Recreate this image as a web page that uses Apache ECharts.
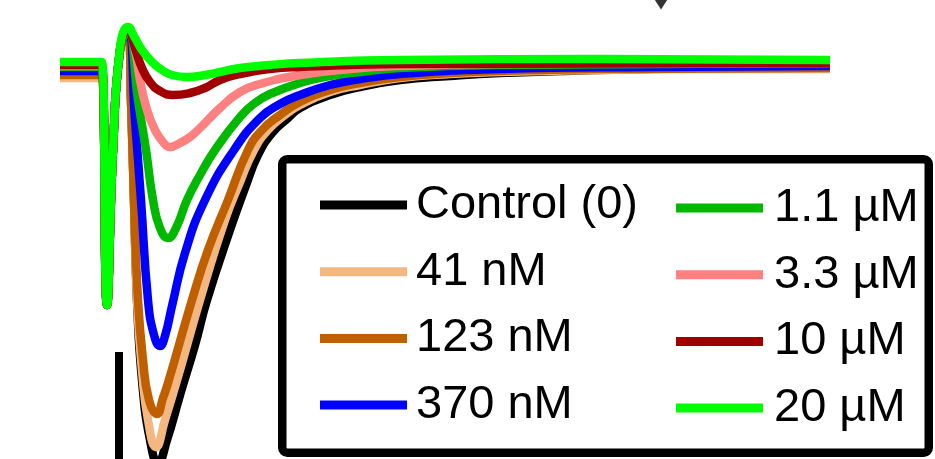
<!DOCTYPE html>
<html>
<head>
<meta charset="utf-8">
<script src="https://cdn.jsdelivr.net/npm/echarts@6/dist/echarts.min.js"></script>
<style>html,body{margin:0;padding:0;background:#fff}#c{width:935px;height:459px}</style>
</head>
<body>
<div id="c"></div>
<script>
// Traces: [time (a.u.), current (a.u.)]
const legendLeft = ['Control (0)', '41 nM', '123 nM', '370 nM'];
const legendRight = ['1.1 \u00b5M', '3.3 \u00b5M', '10 \u00b5M', '20 \u00b5M'];
const colors = ['#000000', '#F3B77F', '#BF5F00', '#0000FF', '#00B800', '#FF8080', '#A00000', '#00FF00'];

const traceControl = [[60,-4],[100,-4],[102,-4],[107,-235],[113,-80],[120,20],[128,40],[131,-30],[134,-130],[137,-230],[142,-310],[150,-370],[158,-393],[167,-370],[180,-325],[195,-275],[207,-230],[230,-160],[245,-118],[258,-85],[272,-63],[288,-48],[300,-38],[330,-25],[360,-17],[400,-10],[450,-6],[500,-3],[560,-1],[650,1],[750,2],[830,2]];
const trace41nM = [[60,-8],[100,-8],[102,-8],[107,-235],[113,-80],[120,20],[128,40],[131,-30],[134,-130],[137,-230],[142,-300],[148,-350],[156,-377],[165,-350],[180,-300],[200,-230],[225,-150],[240,-112],[254,-80],[268,-60],[285,-45],[300,-35],[330,-22],[360,-15],[400,-8],[450,-4],[500,-2],[600,0],[700,1],[830,1]];
const trace123nM = [[60,-5],[100,-5],[102,-5],[107,-235],[113,-80],[120,20],[128,40],[131,-30],[134,-130],[138,-230],[143,-290],[149,-330],[157,-344],[163,-328],[168,-313],[192,-230],[208,-180],[228,-130],[248,-80],[262,-60],[280,-45],[300,-32],[330,-20],[360,-13],[400,-7],[450,-3],[500,-1],[600,1],[830,2]];
const trace370nM = [[60,-1],[100,-1],[102,-1],[107,-235],[113,-80],[120,20],[128,40],[135,-50],[141,-130],[148,-230],[154,-265],[160,-276],[165,-266],[172,-236],[185,-183],[205,-130],[234,-80],[260,-48],[280,-34],[300,-25],[330,-15],[360,-9],[400,-4],[500,1],[650,3],[830,4]];
const trace1_1uM = [[60,3],[100,3],[102,3],[107,-235],[113,-80],[120,20],[128,40],[138,-30],[146,-80],[153,-130],[160,-158],[168,-168],[176,-158],[187,-130],[200,-105],[215,-80],[240,-47],[255,-33],[270,-24],[300,-13],[330,-6],[360,-2],[400,2],[500,5],[830,7]];
const trace3_3uM = [[60,4],[100,4],[102,4],[107,-235],[113,-80],[120,20],[128,42],[135,20],[140,-10],[147,-40],[155,-60],[163,-72],[170,-77],[180,-73],[190,-67],[200,-58],[220,-38],[240,-22],[260,-14],[300,-5],[350,1],[400,4],[500,6],[830,7]];
const trace10uM = [[60,5],[100,5],[102,5],[107,-235],[113,-80],[120,20],[128,42],[135,22],[142,2],[150,-12],[160,-21],[173,-25],[190,-23],[205,-18],[220,-10],[240,-4],[270,1],[300,3],[400,6],[830,7]];
const trace20uM = [[60,8],[100,8],[102,8],[107,-235],[113,-80],[120,22],[128,43],[135,32],[142,20],[152,8],[162,0],[172,-5],[187,-7],[205,-5],[220,-2],[240,2],[270,5],[300,7],[400,10],[600,11],[830,10]];
const scaleBar = [[119,-282],[119,-400]];
const arrowMark = [[661,65.5]];

const traces = [traceControl, trace41nM, trace123nM, trace370nM, trace1_1uM, trace3_3uM, trace10uM, trace20uM];
const names = legendLeft.concat(legendRight);

const series = traces.map((d, i) => ({
  name: names[i], type: 'line', data: d, showSymbol: false, smooth: 0.5,
  color: colors[i],
  lineStyle: { width: 8.5, color: colors[i], join: 'round' }, silent: true
}));
series.push({ type: 'line', data: scaleBar, showSymbol: false, lineStyle: { width: 8, color: '#000', cap: 'butt' }, silent: true, z: 3 });
series.push({ type: 'scatter', data: arrowMark, symbol: 'path://M0,0L12,0L6,10Z', symbolSize: [13, 10], itemStyle: { color: '#000' }, silent: true });

const legendCommon = {
  orient: 'vertical', icon: 'rect', itemWidth: 87, itemHeight: 9, itemGap: 19.7,
  padding: 0, selectedMode: false,
  textStyle: { fontSize: 47, fontFamily: 'Liberation Sans, Arial, sans-serif', color: '#000', padding: [0, 0, 0, 4] }
};

const chart = echarts.init(document.getElementById('c'), null, { renderer: 'canvas' });
chart.setOption({
  animation: false,
  backgroundColor: '#fff',
  grid: { left: 0, right: 0, top: 0, bottom: 0 },
  xAxis: { type: 'value', min: 0, max: 935, show: false },
  yAxis: { type: 'value', min: -389, max: 70, show: false },
  legend: [
    Object.assign({}, legendCommon, { data: legendLeft, left: 320, top: 181.5 }),
    Object.assign({}, legendCommon, { data: legendRight, left: 676, top: 184.5, textStyle: Object.assign({}, legendCommon.textStyle, { padding: [0, 0, 0, 6] }) })
  ],
  graphic: { elements: [{
    type: 'rect', z: 3, silent: true,
    shape: { x: 282.25, y: 159.25, width: 646.5, height: 293.5, r: 5 },
    style: { fill: '#fff', stroke: '#000', lineWidth: 8.5 }
  }] },
  series: series
});
</script>
</body>
</html>
